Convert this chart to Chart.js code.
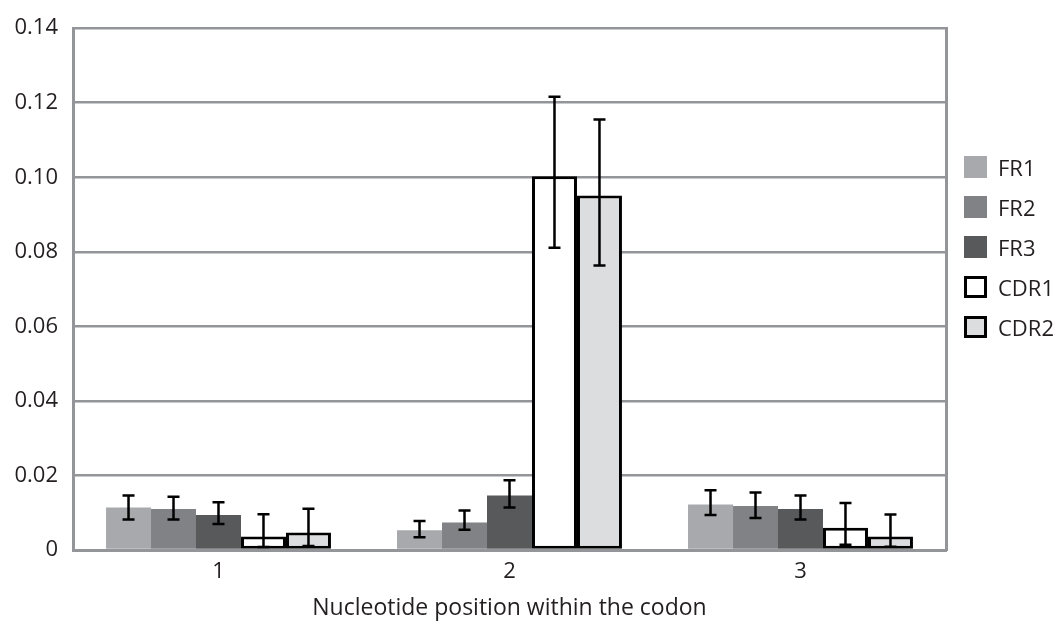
<!DOCTYPE html>
<html>
<head>
<meta charset="utf-8">
<script src="https://cdn.jsdelivr.net/npm/chart.js@4/dist/chart.umd.min.js"></script>
<style>
  html, body { margin: 0; padding: 0; background: #fff; }
  #wrap { position: relative; width: 1058px; height: 626px; }
  #legend { position: absolute; left: 964px; top: 156px; font-family: "Open Sans", sans-serif; font-size: 22px; color: #231f20; }
  #legend .item { display: flex; align-items: center; height: 22px; margin-bottom: 18px; }
  #legend .box { width: 23px; height: 22px; box-sizing: border-box; margin-right: 11px; }
</style>
</head>
<body>
<div id="wrap">
  <canvas id="chart" width="1058" height="626"></canvas>
  <div id="legend"></div>
</div>
<script>
// ===========================
// Data
// ===========================
const categories = ['1', '2', '3'];
const seriesNames = ['FR1', 'FR2', 'FR3', 'CDR1', 'CDR2'];

const fr1 = [0.0114, 0.0053, 0.0122];
const fr2 = [0.0110, 0.0074, 0.0118];
const fr3 = [0.0094, 0.0146, 0.0110];
const cdr1 = [0.0036, 0.1003, 0.0060];
const cdr2 = [0.0047, 0.0951, 0.0036];

// error bar ends (upper / lower)
const fr1Hi = [0.0146, 0.0078, 0.0160];
const fr1Lo = [0.0082, 0.0034, 0.0094];
const fr2Hi = [0.0143, 0.0106, 0.0154];
const fr2Lo = [0.0082, 0.0054, 0.0086];
const fr3Hi = [0.0128, 0.0187, 0.0146];
const fr3Lo = [0.0070, 0.0114, 0.0082];
const cdr1Hi = [0.0096, 0.1216, 0.0126];
const cdr1Lo = [0.0008, 0.0811, 0.0014];
const cdr2Hi = [0.0111, 0.1155, 0.0095];
const cdr2Lo = [0.0011, 0.0763, 0.0009];

const yTicks = [0, 0.02, 0.04, 0.06, 0.08, 0.10, 0.12, 0.14];

const fills = ['#a7a9ac', '#808285', '#58595b', '#ffffff', '#dcdddf'];
const borders = [0, 0, 0, 3, 3];
const values = [fr1, fr2, fr3, cdr1, cdr2];
const highs = [fr1Hi, fr2Hi, fr3Hi, cdr1Hi, cdr2Hi];
const lows = [fr1Lo, fr2Lo, fr3Lo, cdr1Lo, cdr2Lo];

const FONT = '"Open Sans", sans-serif';
const GRID = '#939598';

// ===========================
// Error bars plugin
// ===========================
const errorBars = {
    id: 'errorBars',
    afterDatasetsDraw(chart) {
        const ctx = chart.ctx;
        const y = chart.scales.y;
        ctx.save();
        ctx.strokeStyle = '#000';
        ctx.lineWidth = 2.5;
        chart.data.datasets.forEach((ds, i) => {
            const meta = chart.getDatasetMeta(i);
            meta.data.forEach((bar, j) => {
                const yHi = y.getPixelForValue(ds.errHi[j]);
                const yLo = y.getPixelForValue(ds.errLo[j]);
                const x = bar.x;
                ctx.beginPath();
                ctx.moveTo(x, yHi); ctx.lineTo(x, yLo);
                ctx.moveTo(x - 6, yHi); ctx.lineTo(x + 6, yHi);
                ctx.moveTo(x - 6, yLo); ctx.lineTo(x + 6, yLo);
                ctx.stroke();
            });
        });
        ctx.restore();
    }
};

const datasets = seriesNames.map((name, i) => ({
    label: name,
    data: values[i],
    errHi: highs[i],
    errLo: lows[i],
    backgroundColor: fills[i],
    borderColor: '#000',
    borderWidth: borders[i],
    borderSkipped: false
}));

const ctx = document.getElementById('chart').getContext('2d');
const chart = new Chart(ctx, {
    type: 'bar',
    data: { labels: categories, datasets: datasets },
    plugins: [errorBars],
    options: {
        responsive: false,
        animation: false,
        layout: { padding: { left: 0, right: 112, top: 28, bottom: 0 } },
        plugins: {
            legend: { display: false },
            tooltip: { enabled: false }
        },
        datasets: {
            bar: { categoryPercentage: 0.773, barPercentage: 1.0 }
        },
        scales: {
            x: {
                grid: { display: false },
                border: { color: GRID, width: 3 },
                ticks: { color: '#231f20', font: { family: FONT, size: 22 }, padding: 1 },
                title: {
                    display: true,
                    text: 'Nucleotide position within the codon',
                    color: '#231f20',
                    font: { family: FONT, size: 23 },
                    padding: { top: 3 }
                },
                afterFit(scale) { scale.height = 76; }
            },
            y: {
                min: 0,
                max: 0.14,
                afterBuildTicks(scale) { scale.ticks = yTicks.map(v => ({ value: v })); },
                grid: { color: GRID, lineWidth: 2.5, drawTicks: false },
                border: { color: GRID, width: 3 },
                ticks: {
                    color: '#231f20',
                    font: { family: FONT, size: 22 },
                    padding: 15,
                    callback: v => v === 0 ? '0' : v.toFixed(2)
                },
                afterFit(scale) { scale.width = 73; }
            },
            y2: {
                position: 'right',
                min: 0,
                max: 0.14,
                grid: { display: false, drawTicks: false },
                border: { color: GRID, width: 3 },
                ticks: { display: false },
                afterFit(scale) { scale.width = 0; }
            }
        }
    }
});

// ===========================
// Legend (HTML)
// ===========================
const legend = document.getElementById('legend');
seriesNames.forEach((name, i) => {
    const item = document.createElement('div');
    item.className = 'item';
    const box = document.createElement('span');
    box.className = 'box';
    box.style.background = fills[i];
    if (borders[i]) box.style.border = '3px solid #000';
    const label = document.createElement('span');
    label.textContent = name;
    item.appendChild(box);
    item.appendChild(label);
    legend.appendChild(item);
});
</script>
</body>
</html>
